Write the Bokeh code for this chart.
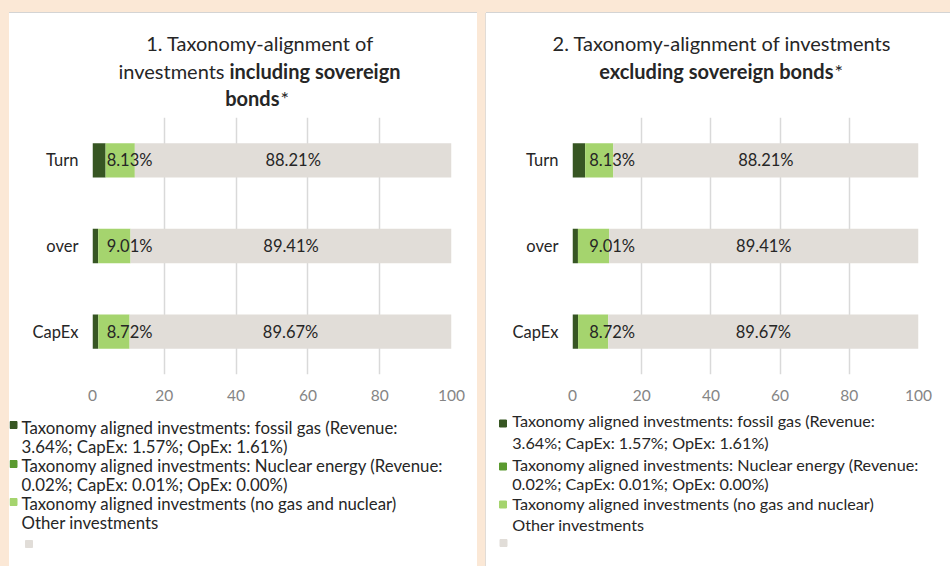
from bokeh.plotting import figure
from bokeh.layouts import row, column
from bokeh.models import ColumnDataSource, Range1d, FactorRange, FixedTicker
from bokeh.core.properties import value
from bokeh.embed import file_html
from bokeh.resources import INLINE

# ---------------- data ----------------
categories = ["Turn", "over", "CapEx"]
fossil_gas = [3.64, 1.57, 1.61]
nuclear = [0.02, 0.01, 0.00]
aligned_other = [8.13, 9.01, 8.72]
other_investments = [88.21, 89.41, 89.67]
x_ticks = [0, 20, 40, 60, 80, 100]

series_keys = ["fossil_gas", "nuclear", "aligned_other", "other_investments"]
series_colors = ["#375623", "#5B9A30", "#A5D46E", "#E1DDD8"]

legend_lines = [
    "Taxonomy aligned investments: fossil gas (Revenue:",
    "3.64%; CapEx: 1.57%; OpEx: 1.61%)",
    "Taxonomy aligned investments: Nuclear energy (Revenue:",
    "0.02%; CapEx: 0.01%; OpEx: 0.00%)",
    "Taxonomy aligned investments (no gas and nuclear)",
    "Other investments",
]

FONT = "Lato"
PEACH = "#FBE8D6"
TXT = "#262626"
TOP_H = 104
FH = 257
CHART_BOTTOM = 36
PANEL_H = 553
LEG_H = PANEL_H - TOP_H - FH - CHART_BOTTOM


def base_fig(w, h):
    p = figure(frame_width=w, frame_height=h, x_range=Range1d(0, w), y_range=Range1d(h, 0),
               x_axis_location=None, y_axis_location=None,
               toolbar_location=None, output_backend="svg",
               min_border=0, outline_line_color=None,
               background_fill_color="white", border_fill_color="white")
    p.grid.visible = False
    return p


def title_fig(w, parts):
    p = base_fig(w, TOP_H)
    for (x, y, txt, style, align) in parts:
        p.text(x=[x], y=[y], text=[txt], text_font=value(FONT), text_font_size="20px",
               text_font_style=style, text_align=align, text_baseline="middle",
               text_color=TXT)
    return p


def chart_fig(w, left, frame_w, green_offset):
    right = w - left - frame_w
    src = ColumnDataSource(dict(
        cat=categories, fossil_gas=fossil_gas, nuclear=nuclear,
        aligned_other=aligned_other, other_investments=other_investments))
    p = figure(frame_width=frame_w, frame_height=FH,
               y_range=FactorRange(factors=categories[::-1]),
               x_range=Range1d(0, 100), toolbar_location=None, output_backend="svg",
               min_border_left=left, min_border_right=right, min_border_top=0,
               min_border_bottom=CHART_BOTTOM, outline_line_color=None,
               background_fill_color="white", border_fill_color="white")
    p.hbar_stack(series_keys, y="cat", height=0.4, color=series_colors, source=src,
                 line_color=None)

    # labels of the taxonomy-aligned segment: start just after the widest gas+nuclear part
    starts = [fossil_gas[i] + nuclear[i] for i in range(len(categories))]
    base = max(starts)
    p.text(x=[base] * len(categories), y=categories,
           text=[f"{v:.2f}%" for v in aligned_other], x_offset=green_offset,
           text_font=value(FONT), text_font_size="16.5px",
           text_align="left", text_baseline="middle", text_color=TXT)
    # labels of the other-investments segment: centred
    ox = [starts[i] + aligned_other[i] + other_investments[i] / 2 for i in range(len(categories))]
    p.text(x=ox, y=categories, text=[f"{v:.2f}%" for v in other_investments],
           text_font=value(FONT), text_font_size="16.5px",
           text_align="center", text_baseline="middle", text_color=TXT)

    p.xaxis.ticker = FixedTicker(ticks=x_ticks)
    p.xgrid.ticker = FixedTicker(ticks=x_ticks)
    p.xgrid.grid_line_color = "#D9D9D9"
    p.xgrid.grid_line_width = 1.5
    p.ygrid.visible = False
    for ax in (p.xaxis, p.yaxis):
        ax.axis_line_color = None
        ax.major_tick_line_color = None
        ax.minor_tick_line_color = None
        ax.major_label_text_font = FONT
    p.xaxis.major_label_text_font_size = "15.5px"
    p.xaxis.major_label_text_color = "#858585"
    p.xaxis.major_label_standoff = 9
    p.yaxis.major_tick_out = 0
    p.yaxis.minor_tick_out = 0
    p.yaxis.major_label_text_font_size = "16.5px"
    p.yaxis.major_label_text_color = TXT
    p.yaxis.major_label_standoff = 14
    return p


def legend_fig(w, leg):
    text_x, line_ys, sq_x, sq_ys, gray_xy, size = leg
    p = base_fig(w, LEG_H)
    p.text(x=[text_x] * len(legend_lines), y=line_ys, text=legend_lines,
           text_font=value(FONT), text_font_size=size, text_align="left",
           text_baseline="middle", text_color=TXT)
    p.rect(x=[sq_x] * 3, y=sq_ys, width=7, height=7, color=series_colors[:3])
    p.rect(x=[gray_xy[0]], y=[gray_xy[1]], width=7, height=7, color=series_colors[3])
    return p


OFF = TOP_H + FH + CHART_BOTTOM  # legend fig top, in panel px

# ---------------- left panel ----------------
LW, RW = 468, 464
t1 = title_fig(LW, [
    (250.5, 29, "1. Taxonomy-alignment of", "normal", "center"),
    (215, 57, "investments", "normal", "right"),
    (220, 57, "including sovereign", "bold", "left"),
    (270, 84, "bonds", "bold", "right"),
    (271, 84, "*", "normal", "left"),
])
c1 = chart_fig(LW, 83, 359, 1)
l1 = legend_fig(LW, (12, [y - OFF for y in [414, 432.5, 452, 470.5, 490, 508.5]], 4,
                     [y - OFF for y in [411.5, 450.5, 488.5]], (19.5, 530.5 - OFF), "16.8px"))
left = column(t1, row(c1), l1, spacing=0,
              styles={"background-color": "white", "box-shadow": "0px -1px 0px #D4D4D4"})

# ---------------- right panel ----------------
t2 = title_fig(RW, [
    (235.5, 29, "2. Taxonomy-alignment of investments", "normal", "center"),
    (347, 57, "excluding sovereign bonds", "bold", "right"),
    (348, 57, "*", "normal", "left"),
])
c2 = chart_fig(RW, 86, 346, 4)
l2 = legend_fig(RW, (25.7, [y - OFF for y in [407, 428.5, 451, 470, 490, 510.5]], 16.5,
                     [y - OFF for y in [410, 453, 491]], (17, 529.5 - OFF), "16.2px"))
right = column(t2, row(c2), l2, spacing=0,
               styles={"background-color": "white",
                       "box-shadow": "0px -1px 0px #D4D4D4, -1px 0px 0px #E2DCD6"})

p = row(left, right, spacing=9,
        styles={"background-color": PEACH, "padding": "13px 0px 0px 9px"})

open("out.html", "w").write(file_html(p, INLINE))
